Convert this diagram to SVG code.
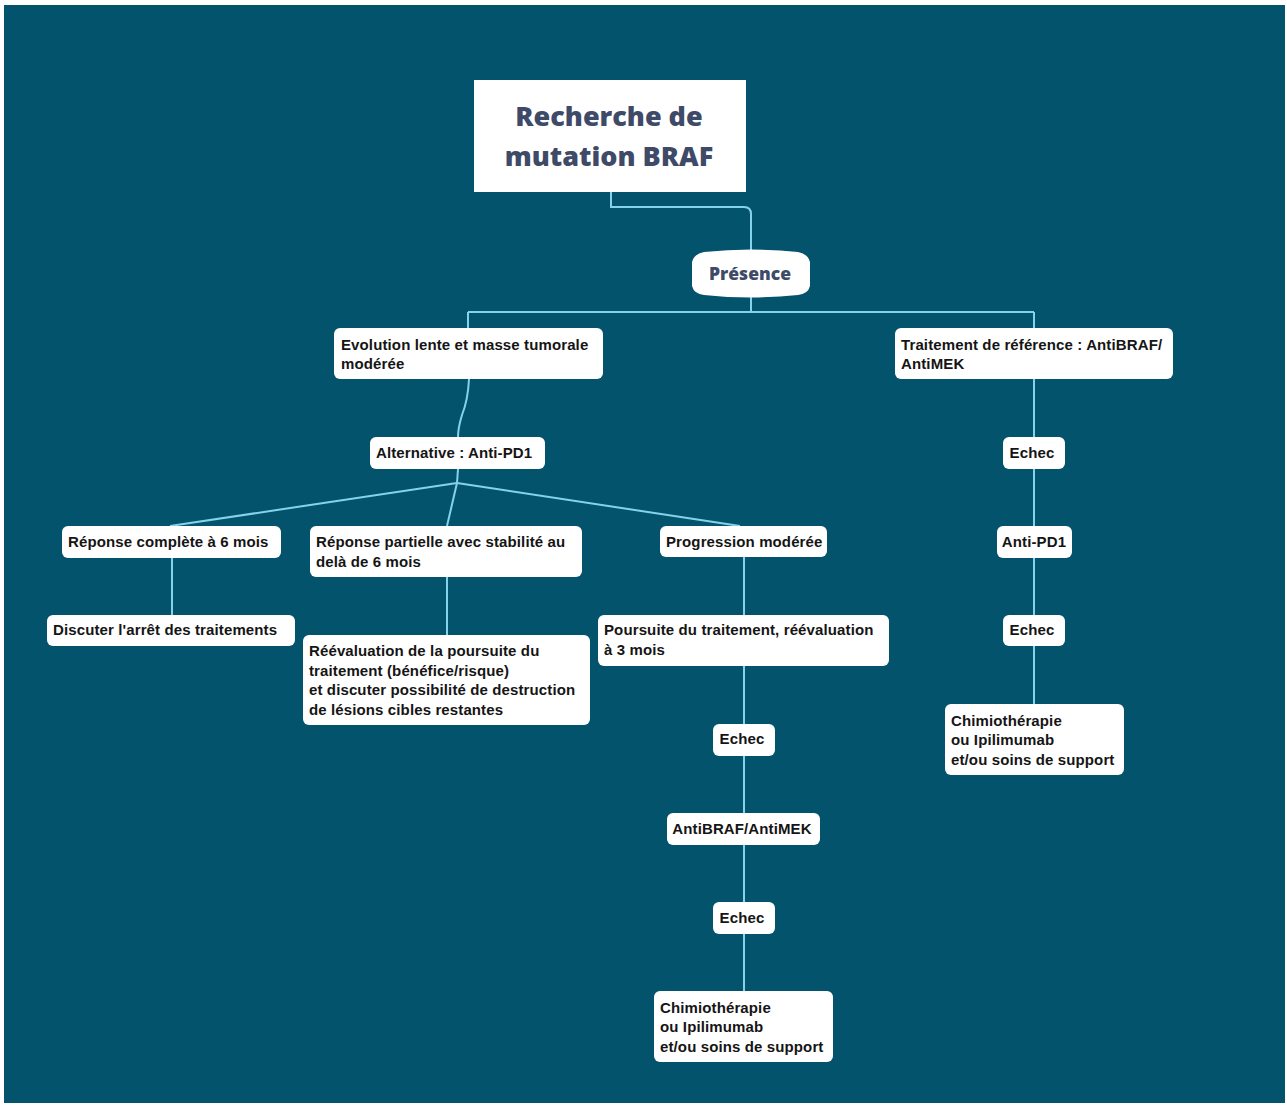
<svg xmlns="http://www.w3.org/2000/svg" width="1287" height="1105" viewBox="0 0 1287 1105">
<style>
.bg{fill:#02536b}
.node{fill:#ffffff}
.box{fill:#ffffff;rx:6px}
.t{font-family:"Liberation Sans",Arial,sans-serif;font-weight:bold;font-size:15px;letter-spacing:0.12px;fill:#151515}
.c{text-anchor:middle}
.title{font-family:"Open Sans","Noto Sans",sans-serif;font-weight:800;font-size:27px;fill:#3e4a67;text-anchor:middle}
.pres{font-family:"Open Sans","Noto Sans",sans-serif;font-weight:800;font-size:17.5px;fill:#3e4a67;text-anchor:middle}
.edge{fill:none;stroke:#86d2ea;stroke-width:2}
</style>
<rect x="0" y="0" width="1287" height="1105" fill="#ffffff"/>
<rect class="bg" x="4" y="5" width="1281" height="1098"/>
<g id="connectors">
<path class="edge" d="M611,192 V207 H744 Q751,207 751,214 V250"/>
<path class="edge" d="M751,297 V312"/>
<path class="edge" d="M468,312 H1034"/>
<path class="edge" d="M468,312 V328"/>
<path class="edge" d="M1034,312 V328"/>
<path class="edge" d="M469,379 Q468,400 462,415 Q458,428 458,437"/>
<path class="edge" d="M458,469 L457,483"/>
<path class="edge" d="M457,483 L170,526"/>
<path class="edge" d="M457,483 L447,526"/>
<path class="edge" d="M457,483 L740,526"/>
<path class="edge" d="M172,558 V615"/>
<path class="edge" d="M447,577 V635"/>
<path class="edge" d="M744,557 V991"/>
<path class="edge" d="M1034,379 V704"/>
</g>
<g id="n-title">
<rect class="node" x="474" y="80" width="272" height="112"/>
<text class="title" x="609" y="126">Recherche de</text>
<text class="title" x="609" y="166">mutation BRAF</text>
</g>
<g id="n-presence">
<path class="node" d="M704,252 Q751,247 798,252 Q808,254 810,262 V286 Q808,294 798,295 Q751,300 704,295 Q694,294 692,286 V262 Q694,254 704,252 Z"/>
<text class="pres" x="750" y="280">Présence</text>
</g>
<g id="n-evolution">
<rect class="box" x="334" y="328" width="269" height="51"/>
<text class="t" x="341" y="350">Evolution lente et masse tumorale</text>
<text class="t" x="341" y="369">modérée</text>
</g>
<g id="n-traitement">
<rect class="box" x="895" y="328" width="278" height="51"/>
<text class="t" x="901" y="350">Traitement de référence : AntiBRAF/</text>
<text class="t" x="901" y="369">AntiMEK</text>
</g>
<g id="n-alternative">
<rect class="box" x="370" y="437" width="175" height="32"/>
<text class="t" x="376" y="458">Alternative : Anti-PD1</text>
</g>
<g id="n-echec-r1">
<rect class="box" x="1003" y="437" width="62" height="32"/>
<text class="t c" x="1032" y="458">Echec</text>
</g>
<g id="n-rep-complete">
<rect class="box" x="62" y="526" width="219" height="32"/>
<text class="t" x="68" y="547">Réponse complète à 6 mois</text>
</g>
<g id="n-rep-partielle">
<rect class="box" x="310" y="526" width="272" height="51"/>
<text class="t" x="316" y="547">Réponse partielle avec stabilité au</text>
<text class="t" x="316" y="567">delà de 6 mois</text>
</g>
<g id="n-progression">
<rect class="box" x="660" y="526" width="167" height="31"/>
<text class="t" x="666" y="547">Progression modérée</text>
</g>
<g id="n-antipd1-r">
<rect class="box" x="997" y="526" width="75" height="32"/>
<text class="t c" x="1034" y="547">Anti-PD1</text>
</g>
<g id="n-discuter">
<rect class="box" x="47" y="615" width="248" height="31"/>
<text class="t" x="53" y="635">Discuter l'arrêt des traitements</text>
</g>
<g id="n-reevaluation">
<rect class="box" x="303" y="635" width="287" height="90"/>
<text class="t" x="309" y="656">Réévaluation de la poursuite du</text>
<text class="t" x="309" y="676">traitement (bénéfice/risque)</text>
<text class="t" x="309" y="695">et discuter possibilité de destruction</text>
<text class="t" x="309" y="715">de lésions cibles restantes</text>
</g>
<g id="n-poursuite">
<rect class="box" x="598" y="615" width="291" height="51"/>
<text class="t" x="604" y="635">Poursuite du traitement, réévaluation</text>
<text class="t" x="604" y="655">à 3 mois</text>
</g>
<g id="n-echec-r2">
<rect class="box" x="1003" y="615" width="62" height="31"/>
<text class="t c" x="1032" y="635">Echec</text>
</g>
<g id="n-chimio-r">
<rect class="box" x="945" y="704" width="179" height="71"/>
<text class="t" x="951" y="726">Chimiothérapie</text>
<text class="t" x="951" y="745">ou Ipilimumab</text>
<text class="t" x="951" y="765">et/ou soins de support</text>
</g>
<g id="n-echec-m1">
<rect class="box" x="713" y="724" width="62" height="32"/>
<text class="t c" x="742" y="744">Echec</text>
</g>
<g id="n-antibraf">
<rect class="box" x="667" y="813" width="153" height="32"/>
<text class="t c" x="742" y="834">AntiBRAF/AntiMEK</text>
</g>
<g id="n-echec-m2">
<rect class="box" x="713" y="902" width="62" height="32"/>
<text class="t c" x="742" y="923">Echec</text>
</g>
<g id="n-chimio-m">
<rect class="box" x="654" y="991" width="179" height="71"/>
<text class="t" x="660" y="1013">Chimiothérapie</text>
<text class="t" x="660" y="1032">ou Ipilimumab</text>
<text class="t" x="660" y="1052">et/ou soins de support</text>
</g>
</svg>
